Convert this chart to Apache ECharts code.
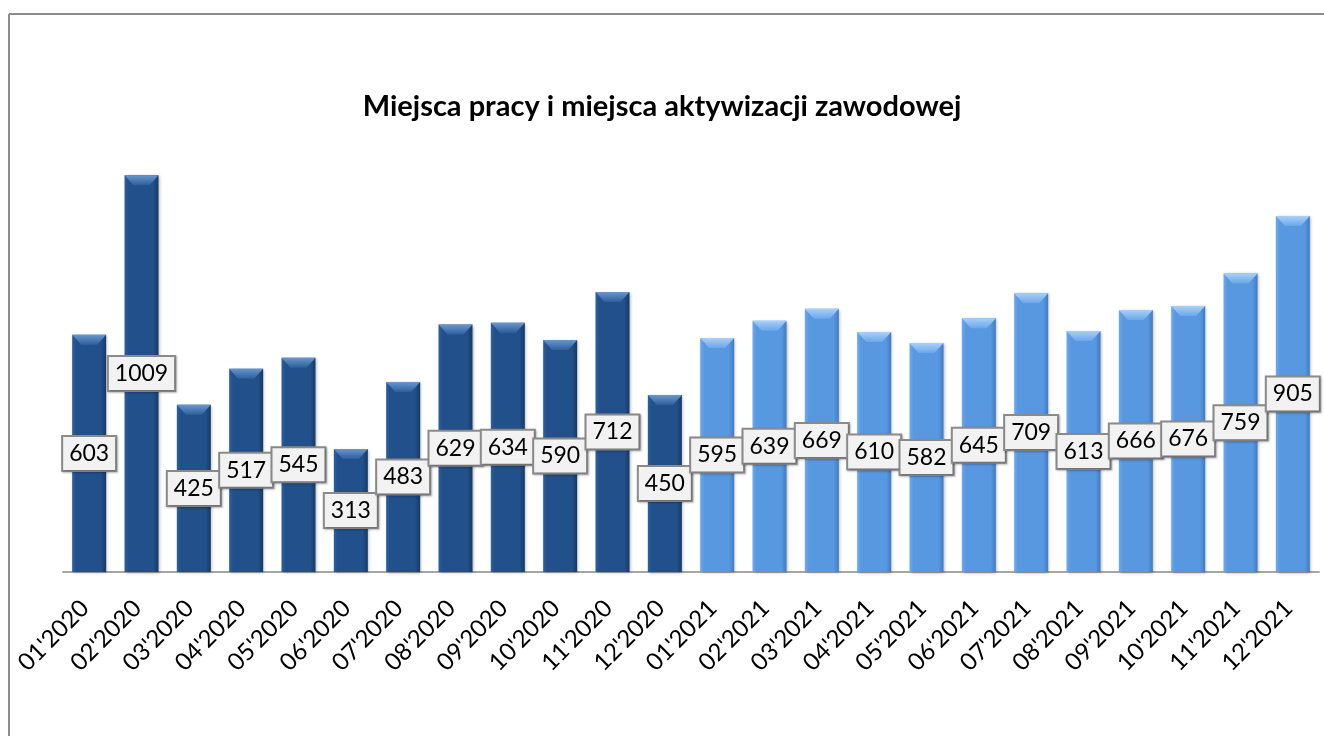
<!DOCTYPE html>
<html>
<head>
<meta charset="utf-8">
<script src="https://cdn.jsdelivr.net/npm/echarts@6/dist/echarts.min.js"></script>
<style>
html,body{margin:0;padding:0;background:#fff;}
#chart{width:1324px;height:736px;}
</style>
</head>
<body>
<div id="chart"></div>
<script>
const categories = ["01'2020","02'2020","03'2020","04'2020","05'2020","06'2020","07'2020","08'2020","09'2020","10'2020","11'2020","12'2020",
  "01'2021","02'2021","03'2021","04'2021","05'2021","06'2021","07'2021","08'2021","09'2021","10'2021","11'2021","12'2021"];
const values = [603,1009,425,517,545,313,483,629,634,590,712,450,
  595,639,669,610,582,645,709,613,666,676,759,905];
const years = ["2020","2020","2020","2020","2020","2020","2020","2020","2020","2020","2020","2020",
  "2021","2021","2021","2021","2021","2021","2021","2021","2021","2021","2021","2021"];
const titleText = 'Miejsca pracy i miejsca aktywizacji zawodowej';

const FONT = 'Lato, "Open Sans", "Noto Sans", sans-serif';

function hGrad(l, m, r) {
  return new echarts.graphic.LinearGradient(0, 0, 1, 0, [
    {offset: 0, color: l}, {offset: 0.12, color: m}, {offset: 0.85, color: m}, {offset: 1, color: r}
  ]);
}
const dark = hGrad('#2c609f', '#21508b', '#163a66');
const light = hGrad('#6eaaec', '#5898e0', '#3f7bc4');

const chart = echarts.init(document.getElementById('chart'), null, {renderer: 'canvas'});
chart.setOption({
  backgroundColor: '#ffffff',
  animation: false,
  title: {
    text: titleText,
    left: 'center',
    top: 87,
    textStyle: {fontFamily: FONT, fontWeight: 'bold', fontSize: 29, color: '#000'}
  },
  graphic: [
    {type: 'line', shape: {x1: 9, y1: 14, x2: 1324, y2: 14}, style: {stroke: '#8c8c8c', lineWidth: 2}},
    {type: 'line', shape: {x1: 9, y1: 14, x2: 9, y2: 736}, style: {stroke: '#8c8c8c', lineWidth: 2}}
  ],
  grid: {left: 63, right: 5, top: 100, bottom: 164, containLabel: false},
  xAxis: {
    type: 'category',
    data: categories,
    axisLine: {show: true, lineStyle: {color: '#a6a6a6', width: 2}},
    axisTick: {show: false},
    axisLabel: {rotate: 45, margin: 28, padding: [0, 6, 0, 0], fontFamily: FONT, fontSize: 24, color: '#000', interval: 0}
  },
  yAxis: {type: 'value', min: 0, max: 1200, show: false, splitLine: {show: false}},
  series: [
    {
      type: 'bar',
      barWidth: 34,
      z: 2,
      data: values.map((v, i) => ({
        value: v,
        itemStyle: {
          color: years[i] === '2020' ? dark : light,
          shadowBlur: 3, shadowColor: 'rgba(0,0,0,0.3)', shadowOffsetX: 1, shadowOffsetY: 1
        }
      })),
      label: {
        show: true,
        position: 'inside',
        fontFamily: FONT,
        fontSize: 23,
        color: '#000',
        backgroundColor: '#f2f2f2',
        borderColor: '#8c8c8c',
        borderWidth: 2,
        padding: [4, 6, 2, 6],
        lineHeight: 27,
        shadowBlur: 2,
        shadowColor: 'rgba(0,0,0,0.25)',
        shadowOffsetX: 1,
        shadowOffsetY: 1
      }
    },
    {
      type: 'custom',
      z: 3,
      silent: true,
      data: values.map((v, i) => [i, v]),
      renderItem: function (params, api) {
        const idx = api.value(0);
        const pt = api.coord([idx, api.value(1)]);
        const half = 17, inset = 9, bh = 10;
        const is2020 = years[idx] === '2020';
        return {
          type: 'polygon',
          shape: {points: [
            [pt[0] - half, pt[1]], [pt[0] + half, pt[1]],
            [pt[0] + half - inset, pt[1] + bh], [pt[0] - half + inset, pt[1] + bh]
          ]},
          style: {
            fill: new echarts.graphic.LinearGradient(0, 0, 0, 1, is2020
              ? [{offset: 0, color: '#6a96cc'}, {offset: 1, color: '#2e5f9c'}]
              : [{offset: 0, color: '#aad0f7'}, {offset: 1, color: '#6aa7ea'}])
          }
        };
      }
    }
  ]
});
</script>
</body>
</html>
